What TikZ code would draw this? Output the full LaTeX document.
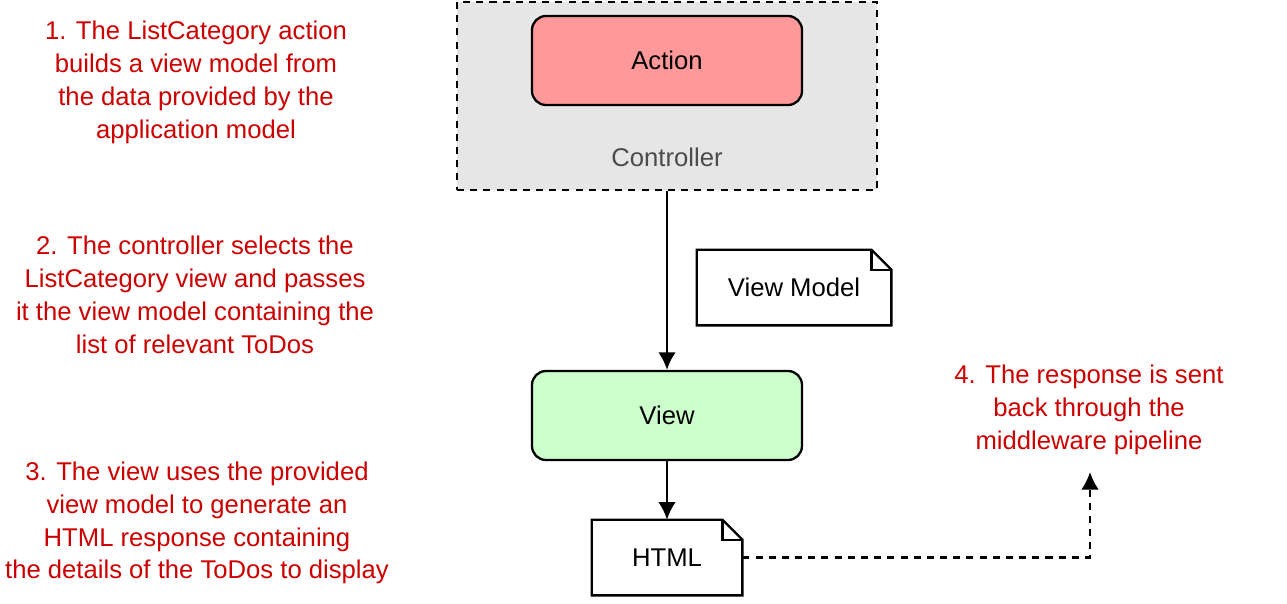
\documentclass[tikz,border=0pt]{standalone}
\usepackage{fontspec}
\setmainfont{Liberation Sans}
\usetikzlibrary{positioning,arrows.meta}
\definecolor{notered}{HTML}{CC0000}
\definecolor{ctrlgray}{HTML}{E6E6E6}
\definecolor{actred}{HTML}{FF9999}
\definecolor{viewgreen}{HTML}{CCFFCC}
\tikzset{
  lw/.style = {line width=1.3pt},
  dsh/.style = {dash pattern=on 4pt off 3.5pt},
  box/.style = {draw, lw, rounded corners=8pt, minimum width=5.4cm, minimum height=1.78cm},
  doc/.style = {minimum height=1.5cm},
  note/.style = {text=notered, align=center},
  flow/.style = {-{Latex[length=10pt,width=10pt]}, lw},
}
\newcommand{\docframe}[1]{%
  \draw[lw, fill=white] (#1.south west) -- (#1.north west) -- ([xshift=-0.4cm]#1.north east)
    -- ([yshift=-0.4cm]#1.north east) -- (#1.south east) -- cycle;
  \draw[lw] ([xshift=-0.4cm]#1.north east) -- ++(0,-0.4) -- ([yshift=-0.4cm]#1.north east);}
\begin{document}
\begin{tikzpicture}[font=\fontsize{14.6}{18.7}\selectfont]
  \useasboundingbox (0,0) rectangle (25.74,-12.06);

  \node (ctrl) [draw, lw, dsh, fill=ctrlgray, minimum width=8.4cm, minimum height=3.76cm]
    at (13.34,-1.92) {};
  \node (action) [box, fill=actred] at (13.34,-1.21) {Action};
  \node (ctrllabel) [text=black!70] at (13.34,-3.14) {Controller};

  \node (viewmodel) [doc, minimum width=3.88cm] at (15.88,-5.75) {};
  \docframe{viewmodel}
  \node at (viewmodel) {View Model};

  \node (view) [box, fill=viewgreen] at (13.34,-8.31) {View};

  \node (html) [doc, minimum width=3cm] at (13.34,-11.15) {};
  \docframe{html}
  \node at (html) {HTML};

  \coordinate (up) at (21.8,-9.44);

  \draw[flow] (ctrl) -- (view);
  \draw[flow] (view) -- (html);
  \draw[flow, dsh] (html.east) -| (up);

  % notes
  \node (n1) [note] at (3.92,-1.65) {1. The ListCategory action\\builds a view model from\\the data provided by the\\application model};
  \node (n2) [note] at (3.9,-5.9) {2. The controller selects the\\ListCategory view and passes\\it the view model containing the\\list of relevant ToDos};
  \node (n3) [note] at (3.94,-10.46) {3. The view uses the provided\\view model to generate an\\HTML response containing\\the details of the ToDos to display};
  \node (n4) [note] at (21.78,-8.2) {4. The response is sent\\back through the\\middleware pipeline};
\end{tikzpicture}
\end{document}
